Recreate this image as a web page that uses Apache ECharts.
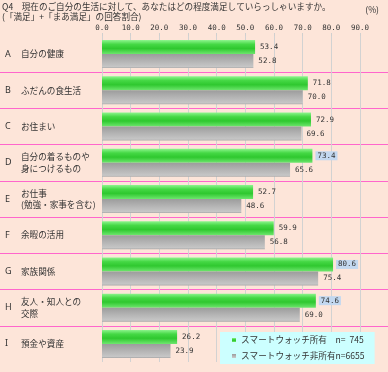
<!DOCTYPE html>
<html>
<head>
<meta charset="utf-8">
<script src="https://cdn.jsdelivr.net/npm/echarts@6/dist/echarts.min.js"></script>
<style>
html,body{margin:0;padding:0;background:#fde5d9;}
#chart{width:388px;height:372px;}
</style>
</head>
<body>
<div id="chart"></div>
<script>
const letters = ['A','B','C','D','E','F','G','H','I'];
const categories = ['自分の健康','ふだんの食生活','お住まい','自分の着るものや\n身につけるもの','お仕事\n(勉強・家事を含む)','余暇の活用','家族関係','友人・知人との\n交際','預金や資産'];
const seriesNames = ['スマートウォッチ所有　n=  745','スマートウォッチ非所有n=6655'];
const ownerValues = [53.4, 71.8, 72.9, 73.4, 52.7, 59.9, 80.6, 74.6, 26.2];
const nonOwnerValues = [52.8, 70.0, 69.6, 65.6, 48.6, 56.8, 75.4, 69.0, 23.9];
const ownerHighlighted = [false,false,false,true,false,false,true,true,false];
const xTicks = [0,10,20,30,40,50,60,70,80,90];

const CJK = '"Noto Sans CJK JP", sans-serif';
const NUM = '"DejaVu Sans Mono", monospace';

const chart = echarts.init(document.getElementById('chart'), null, {renderer:'canvas'});

const greenGrad = new echarts.graphic.LinearGradient(0,0,0,1,[
  {offset:0,color:'#8df58d'},{offset:0.3,color:'#45d845'},{offset:0.6,color:'#2fc82f'},{offset:1,color:'#6ee66e'}]);
const greyGrad = new echarts.graphic.LinearGradient(0,0,0,1,[
  {offset:0,color:'#9c9c9c'},{offset:0.5,color:'#b4b4b4'},{offset:0.9,color:'#c6c6c6'},{offset:1,color:'#a8a8a8'}]);

const valueLabel = {
  show:true, position:'right', distance:3, padding:[1,2,0,2],
  fontFamily:NUM, fontSize:7.5, color:'#333',
  formatter:p=>Number(p.value).toFixed(1)
};

chart.setOption({
  backgroundColor:'#fde5d9',
  animation:false,
  title:[
    {text:'Q4　現在のご自分の生活に対して、あなたはどの程度満足していらっしゃいますか。\n(「満足」+「まあ満足」の回答割合)',
     left:2, top:2, padding:0,
     textStyle:{fontFamily:CJK, fontSize:8.6, lineHeight:10, fontWeight:'normal', color:'#333'}},
    {text:'(%)', right:9, top:5, padding:0,
     textStyle:{fontFamily:CJK, fontSize:8.6, fontWeight:'normal', color:'#333'}}
  ],
  legend:{
    orient:'vertical', left:220, top:332, padding:[2,10,2,12], itemGap:4,
    backgroundColor:'#ccffff', icon:'rect', itemWidth:4, itemHeight:4,
    data:seriesNames,
    textStyle:{fontFamily:CJK, fontSize:8.6, lineHeight:12, color:'#333'}
  },
  grid:[
    {left:0, right:0, top:36, bottom:10, containLabel:false, outerBoundsMode:'none'},
    {left:102, right:28, top:36, bottom:10, containLabel:false, outerBoundsMode:'none'}
  ],
  xAxis:[
    {gridIndex:0, type:'value', min:0, max:1, show:false},
    {gridIndex:1, type:'value', position:'top', min:xTicks[0], max:xTicks[xTicks.length-1], interval:xTicks[1]-xTicks[0],
     axisLine:{show:false}, axisTick:{show:true, length:3, lineStyle:{color:'#cfcfcf'}},
     axisLabel:{fontFamily:NUM, fontSize:7.5, color:'#333', margin:4, formatter:v=>v.toFixed(1)},
     splitLine:{show:true, lineStyle:{color:'#d2d2d2', width:1}}}
  ],
  yAxis:[
    {gridIndex:0, type:'category', inverse:true, data:letters, position:'left',
     axisLine:{show:false}, axisTick:{show:false}, axisLabel:{show:false},
     splitLine:{show:true, showMinLine:false, showMaxLine:false, lineStyle:{color:'#ff66cc', width:1}}},
    {gridIndex:1, type:'category', inverse:true, data:categories, position:'left',
     axisLine:{show:false}, axisTick:{show:false}, splitLine:{show:false},
     axisLabel:{align:'left', margin:81, fontFamily:CJK, fontSize:8.6, lineHeight:11.5, color:'#333'}},
    {gridIndex:1, type:'category', inverse:true, data:letters, position:'left', offset:0,
     axisLine:{show:false}, axisTick:{show:false}, splitLine:{show:false},
     axisLabel:{align:'left', margin:97, fontFamily:'"Noto Sans", sans-serif', fontSize:9, color:'#333'}}
  ],
  series:[
    {name:seriesNames[0], type:'bar', xAxisIndex:1, yAxisIndex:1, barWidth:14, barGap:'0%',
     itemStyle:{color:greenGrad}, label:valueLabel,
     data:ownerValues.map((v,i)=>ownerHighlighted[i] ? {value:v, label:{backgroundColor:'#c3d8f0'}} : {value:v})},
    {name:seriesNames[1], type:'bar', xAxisIndex:1, yAxisIndex:1, barWidth:14, barGap:'0%',
     itemStyle:{color:greyGrad}, label:valueLabel,
     data:nonOwnerValues}
  ]
});
</script>
</body>
</html>
